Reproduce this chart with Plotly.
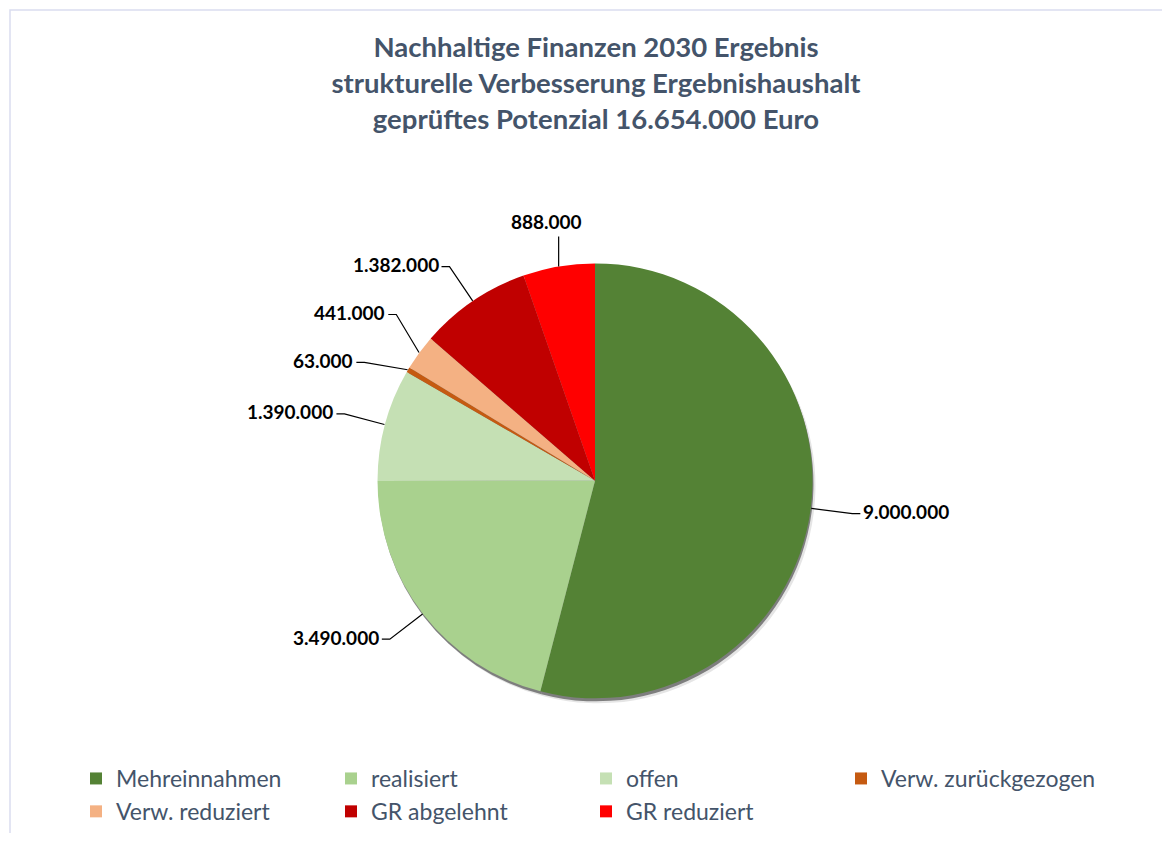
import math
import plotly.graph_objects as go

# data
labels = ['Mehreinnahmen', 'realisiert', 'offen', 'Verw. zurückgezogen',
          'Verw. reduziert', 'GR abgelehnt', 'GR reduziert']
values = [9000000, 3490000, 1390000, 63000, 441000, 1382000, 888000]
colors = ['#548235', '#A9D18E', '#C5E0B4', '#C55A11', '#F4B183', '#C00000', '#FF0000']
title_lines = ['Nachhaltige Finanzen 2030 Ergebnis',
               'strukturelle Verbesserung Ergebnishaushalt',
               'geprüftes Potenzial 16.654.000 Euro']

# page body has an 8px margin, so the figure is made a bit smaller
OFF = 8
W, H = 1170 - 2 * OFF, 841 - 2 * OFF
CX, CY, R = 595, 482, 218   # pie centre / radius in screen px


def px(x):
    return (x - OFF) / W


def py(y):
    return 1 - (y - OFF) / H


def fmt(v):
    return f'{v:,}'.replace(',', '.')


def dom(dx=0, dy=0):
    return dict(x=[px(CX - R + dx), px(CX + R + dx)],
                y=[py(CY + R + dy), py(CY - R + dy)])


fig = go.Figure()

# shadow under the pie
for off, a in [(5, 0.10), (3, 0.45)]:
    fig.add_trace(go.Pie(labels=labels, values=values, sort=False, direction='clockwise',
                         marker=dict(colors=[f'rgba(0,0,0,{a})'] * len(values), line=dict(width=0)),
                         textinfo='none', hoverinfo='skip', showlegend=False,
                         domain=dom(off - 2, off)))

fig.add_trace(go.Pie(labels=labels, values=values, sort=False, direction='clockwise',
                     marker=dict(colors=colors, line=dict(width=0)),
                     textinfo='none', showlegend=True, domain=dom()))

# data labels with leader lines
total = sum(values)
cum = 0
items = []
RL = 1.19 * R
for v in values:
    mid = (cum + v / 2) / total * 2 * math.pi
    cum += v
    s, c = math.sin(mid), math.cos(mid)
    items.append(dict(v=v, s=s, c=c, ex=CX + R * s, ey=CY - R * c, py=CY - RL * c))

# push apart labels on the left side
left = sorted([it for it in items if it['s'] < -0.25], key=lambda it: it['py'])
gap = 48
for _ in range(50):
    for a, b in zip(left, left[1:]):
        if b['py'] - a['py'] < gap:
            m = (a['py'] + b['py']) / 2
            a['py'], b['py'] = m - gap / 2, m + gap / 2

lab_font = dict(family='Lato', size=19, color='black', weight='bold')
shapes = [dict(type='rect', xref='paper', yref='paper', x0=px(10), x1=px(1200),
               y0=py(900), y1=py(10), line=dict(color='#DADDF0', width=1.5))]
annotations = []
for it in items:
    if abs(it['s']) < 0.25:
        # label straight above the slice
        ptx, pty = it['ex'], CY - 1.14 * R * it['c']
        shapes.append(dict(type='line', xref='paper', yref='paper',
                           x0=px(it['ex']), y0=py(it['ey']), x1=px(ptx), y1=py(pty),
                           line=dict(color='black', width=1.2)))
        annotations.append(dict(x=px(ptx - 12), y=py(pty - 1), xref='paper', yref='paper',
                                text=fmt(it['v']), showarrow=False,
                                xanchor='center', yanchor='bottom', font=lab_font))
        continue
    side = 1 if it['s'] > 0 else -1
    dy = it['py'] - CY
    dxl = math.sqrt(max(RL ** 2 - dy ** 2, 0))
    ptx, pty = CX + side * dxl, it['py']
    tail = ptx + side * 8
    shapes.append(dict(type='path', xref='paper', yref='paper',
                       path=f"M{px(it['ex'])},{py(it['ey'])} L{px(ptx)},{py(pty)} L{px(tail)},{py(pty)}",
                       line=dict(color='black', width=1.2)))
    annotations.append(dict(x=px(tail + side * 1), y=py(pty - 2), xref='paper', yref='paper',
                            text=fmt(it['v']), showarrow=False,
                            xanchor='left' if side > 0 else 'right', yanchor='middle',
                            font=lab_font))

fig.update_layout(
    width=W, height=H,
    margin=dict(l=0, r=0, t=0, b=0),
    paper_bgcolor='white',
    title=dict(text='<br>'.join(title_lines), x=px(596), xanchor='center',
               y=py(57), yanchor='top',
               font=dict(family='Lato', size=27.5, color='#44546A', weight='bold')),
    legend=dict(orientation='h', x=px(76), xanchor='left', y=py(759), yanchor='top',
                font=dict(family='Lato', size=23, color='#44546A'),
                entrywidth=210, entrywidthmode='pixels', traceorder='normal'),
    shapes=shapes,
    annotations=annotations,
)

fig.write_html('out.html')
